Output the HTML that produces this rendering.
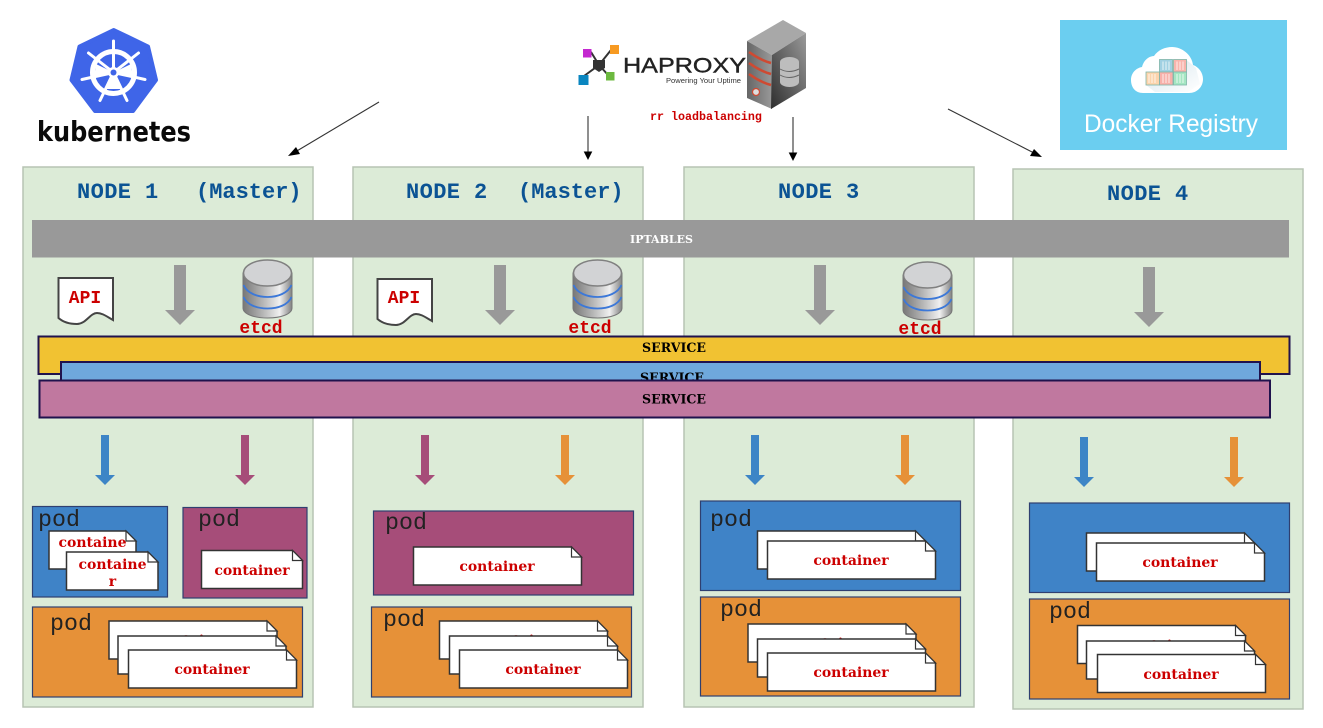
<!DOCTYPE html>
<html><head><meta charset="utf-8"><title>Kubernetes cluster</title>
<style>
html,body{margin:0;padding:0;background:#fff;width:1323px;height:728px;overflow:hidden}
svg{display:block}
.node{fill:#dcebd7;stroke:#b7c4b3;stroke-width:1.5}
.nt{font:bold 22px "Liberation Mono",monospace;fill:#0b5394;white-space:pre}
.pod{font:23.3px "Liberation Mono",monospace;fill:#222}
.ct{font:bold 14px "DejaVu Serif","Liberation Serif",serif;fill:#cc0000;text-anchor:middle}
.red{font:bold 18px "Liberation Mono",monospace;fill:#cc0000;text-anchor:middle}
.sv{font:bold 12.600px "DejaVu Serif","Liberation Serif",serif;fill:#000;text-anchor:middle}
.pb{stroke:#2f3f70;stroke-width:1.2}
.c path{fill:#fff;stroke:#333;stroke-width:1.5}
</style></head><body>
<svg width="1323" height="728" viewBox="0 0 1323 728" xmlns="http://www.w3.org/2000/svg">
<defs>
<linearGradient id="cy" x1="0" x2="1" y1="0" y2="0"><stop offset="0" stop-color="#777"/><stop offset=".4" stop-color="#b5b5b5"/><stop offset=".75" stop-color="#f0f0f0"/><stop offset="1" stop-color="#808080"/></linearGradient>
<linearGradient id="sl" x1="0" x2="1" y1="0" y2="0"><stop offset="0" stop-color="#666"/><stop offset="1" stop-color="#999"/></linearGradient>
<linearGradient id="sr" x1="0" x2="1" y1="1" y2="0"><stop offset="0" stop-color="#2e2e2e"/><stop offset="1" stop-color="#9a9a9a"/></linearGradient>
<linearGradient id="cs" x1="0" x2="1" y1="0" y2="1"><stop offset="0" stop-color="#c5dbe6"/><stop offset="1" stop-color="#fff"/></linearGradient>
<g id="cyl">
<path d="M0 13V48C0 54 11 58 24.500 58S49 54 49 48V13Z" fill="url(#cy)" stroke="#777"/>
<ellipse cx="24.500" cy="13" rx="24" ry="13" fill="#d2d3d5" stroke="#808080" stroke-width="1.500"/>
<path d="M0.500 25C4 33 14 37 24.500 37S45 33 48.500 25M0.500 37C4 45 14 48.500 24.500 48.500S45 45 48.500 37" fill="none" stroke="#3c78d8" stroke-width="1.800"/>
</g>
<g id="doc"><path d="M0.500 0H55V42C48 38 44 35 39 35C32 35 28 46 19 46C11 46 5 44 0.500 40Z" fill="#fff" stroke="#444" stroke-width="2"/></g>
<g id="c168" class="c"><path d="M0 0H158L168 10V38H0Z"/><path d="M158 0V10H168Z" style="stroke-width:1.200"/></g>
<path id="ga" d="M-6 0H6V45H15L0 60L-15 45H-6Z" fill="#999"/>
<path id="sa" d="M-4 0H4V40H10L0 50L-10 40H-4Z"/>
<path id="ah" d="M0 0L-4.300 -8.500H4.300Z" fill="#000"/>
</defs>

<!-- nodes -->
<rect class="node" x="23" y="167" width="290" height="540"/>
<rect class="node" x="353" y="167" width="290" height="540"/>
<rect class="node" x="684" y="167" width="290" height="540"/>
<rect class="node" x="1013" y="169" width="290" height="540"/>

<text class="nt" x="77" y="198" letter-spacing=".4">NODE 1</text><text class="nt" x="196" y="198">(Master)</text>
<text class="nt" x="406" y="198" letter-spacing=".4">NODE 2</text><text class="nt" x="518" y="198">(Master)</text>
<text class="nt" x="778" y="198" letter-spacing=".4">NODE 3</text>
<text class="nt" x="1107" y="200" letter-spacing=".4">NODE 4</text>

<!-- kubernetes logo -->
<path d="M113.700 30L148 46.500L156 80L133 111H95L71.500 80L79.500 46.500Z" fill="#3f65e8" stroke="#3f65e8" stroke-width="4" stroke-linejoin="round"/>
<g fill="none" stroke="#fff" stroke-linecap="round">
<circle cx="113.500" cy="72.500" r="21" stroke-width="5"/>
<path stroke-width="3" d="M113.500 41V72.500M138.500 53L113.500 72.500M145 79.500L113.500 72.500M127 100.500L113.500 72.500M100 100.500L113.500 72.500M82 79.500L113.500 72.500M88.500 53L113.500 72.500"/>
</g>
<path d="M113.500 72.500L106 89H121Z M113.500 72.500L96 64L94 78Z M113.500 72.500L131 64L133 78Z" fill="#fff"/>
<circle cx="113.500" cy="72.500" r="5.500" fill="#fff"/>
<circle cx="113.500" cy="72.500" r="3" fill="#3f65e8"/>
<text x="37" y="141" font-family="'DejaVu Sans','Liberation Sans',sans-serif" font-weight="bold" font-size="28" textLength="154" lengthAdjust="spacingAndGlyphs" fill="#0a0a0a">kubernetes</text>

<!-- haproxy logo -->
<path d="M584 76L599 65L611 50M591 52L599 65L609 76" stroke="#333" stroke-width="2" fill="none"/>
<path d="M593 60H605V68L599 72L593 68Z" fill="#333"/>
<rect x="583" y="49" width="8.500" height="8.500" fill="#c428d0"/>
<rect x="610" y="45" width="9" height="9" fill="#f79a22"/>
<rect x="578.500" y="75" width="10" height="10" fill="#0a86c0"/>
<rect x="606" y="72" width="8.500" height="8.500" fill="#6cb93f"/>
<text x="623" y="72.500" font-family="'Liberation Sans',sans-serif" font-size="21" textLength="123" lengthAdjust="spacingAndGlyphs" fill="#222" stroke="#222" stroke-width=".4">HAPROXY</text>
<text x="666" y="83" font-family="'Liberation Sans',sans-serif" font-size="7.500" textLength="75" lengthAdjust="spacingAndGlyphs" fill="#333">Powering Your Uptime</text>
<path d="M783 20L806 33L772 55L747 41Z" fill="#a8a8a8"/>
<path d="M747 41L772 55V109L747 98Z" fill="url(#sl)"/>
<path d="M772 55L806 33V88L771 109Z" fill="url(#sr)"/>
<path d="M749 52Q760 60 771 63M749 63Q760 71 771 74M749 74Q760 82 771 85" fill="none" stroke="#cf4a32" stroke-width="2.500"/>
<circle cx="756" cy="92" r="3.500" fill="#ddd" stroke="#cf4a32" stroke-width="1.200"/>
<g fill="#bdbdbd"><ellipse cx="789.500" cy="62" rx="9.500" ry="5"/><rect x="780" y="62" width="19" height="20"/><ellipse cx="789.500" cy="82" rx="9.500" ry="5"/></g>
<path d="M780 69Q789 74 799 69M780 75Q789 80 799 75" stroke="#666" fill="none"/>
<text x="650" y="120" font-family="'Liberation Mono',monospace" font-weight="bold" font-size="11.670" fill="#cc0000">rr loadbalancing</text>

<!-- docker registry -->
<rect x="1060" y="20" width="227" height="130" fill="#6bcef0"/>
<path d="M1143 93C1135 93 1131 87 1131 80C1131 73 1136 68 1142 67C1144 59 1150 56 1154 56C1158 50 1165 47 1172 47C1182 47 1192 55 1193 65C1199 67 1203 73 1203 79C1203 87 1197 93 1189 93Z" fill="#fff"/>
<path d="M1146 85H1186.500V60L1196 68L1200 84L1188 92H1155Z" fill="url(#cs)" opacity=".7"/>
<g stroke="#7fb5a8" stroke-width=".8">
<rect x="1159.500" y="59.500" width="13" height="12.500" fill="#a0d0e2"/>
<rect x="1173.500" y="59.500" width="13" height="12.500" fill="#f8b4ac"/>
<rect x="1146" y="72" width="13.500" height="13" fill="#fcd4ac"/>
<rect x="1159.500" y="72" width="13.500" height="13" fill="#f8b0aa"/>
<rect x="1173.500" y="72" width="13" height="13" fill="#a4e6c2"/>
</g>
<path d="M1149 74V83M1152 74V83M1155 74V83M1163 74V83M1166 74V83M1169 74V83M1177 74V83M1180 74V83M1183 74V83M1163 61.500V70M1166 61.500V70M1169 61.500V70M1177 61.500V70M1180 61.500V70M1183 61.500V70" stroke="#fff" stroke-width="1" opacity=".75"/>
<text x="1084" y="132" font-family="'Liberation Sans',sans-serif" font-size="25" textLength="174" lengthAdjust="spacingAndGlyphs" fill="#fff">Docker Registry</text>

<!-- top arrows -->
<g stroke="#333" stroke-width="1.100">
<path d="M379 102L296 151.500"/><path d="M588 116V152"/><path d="M793 117V153"/><path d="M948 109L1033 152.500"/>
</g>
<path d="M288 156L296 147L300 154Z"/><path d="M1042 157L1030 156L1034 149Z"/>
<use href="#ah" x="588" y="160"/><use href="#ah" x="793" y="161"/>

<!-- iptables -->
<rect x="32" y="220" width="1257" height="37.500" fill="#999"/>
<text x="661.500" y="243" font-family="'DejaVu Serif','Liberation Serif',serif" font-weight="bold" font-size="11" text-anchor="middle" fill="#fff">IPTABLES</text>

<!-- gray arrows -->
<use href="#ga" x="180" y="265"/><use href="#ga" x="500" y="265"/><use href="#ga" x="820" y="265"/><use href="#ga" x="1149" y="267"/>

<!-- API / etcd -->
<use href="#doc" x="58" y="278"/><text class="red" x="85" y="303">API</text>
<use href="#doc" x="377" y="279"/><text class="red" x="404" y="303">API</text>
<use href="#cyl" x="243" y="260"/><text class="red" x="261" y="333">etcd</text>
<use href="#cyl" x="573" y="260"/><text class="red" x="590" y="333">etcd</text>
<use href="#cyl" x="903" y="262"/><text class="red" x="920" y="334">etcd</text>

<!-- services -->
<rect x="38.500" y="336.500" width="1251" height="37.500" fill="#f1c232" stroke="#20124d" stroke-width="2"/>
<text class="sv" x="674" y="352">SERVICE</text>
<rect x="61" y="362" width="1199" height="30" fill="#6fa8dc" stroke="#20124d" stroke-width="2"/>
<text class="sv" x="672" y="382">SERVICE</text>
<rect x="39.500" y="380.500" width="1230.500" height="37" fill="#c0789f" stroke="#20124d" stroke-width="2"/>
<text class="sv" x="674" y="403.500">SERVICE</text>

<!-- small arrows -->
<use href="#sa" x="105" y="435" fill="#3d85c6"/><use href="#sa" x="245" y="435" fill="#a64d79"/>
<use href="#sa" x="425" y="435" fill="#a64d79"/><use href="#sa" x="565" y="435" fill="#e69138"/>
<use href="#sa" x="755" y="435" fill="#3d85c6"/><use href="#sa" x="905" y="435" fill="#e69138"/>
<use href="#sa" x="1084" y="437" fill="#3d85c6"/><use href="#sa" x="1234" y="437" fill="#e69138"/>

<!-- NODE 1 pods -->
<rect class="pb" x="32.500" y="506.500" width="135" height="90.500" fill="#3f83c7"/>
<text class="pod" x="38" y="526">pod</text>
<g class="c"><path d="M49 531H126L136 541V569H49Z"/><path d="M126 531V541H136Z" style="stroke-width:1.200"/></g>
<text class="ct" x="92.500" y="547">containe</text>
<g class="c"><path d="M66.500 552H148L158 562V590H66.500Z"/><path d="M148 552V562H158Z" style="stroke-width:1.200"/></g>
<text class="ct" x="112.500" y="569">containe</text>
<text class="ct" x="112.500" y="586">r</text>
<rect class="pb" x="183" y="507.500" width="124" height="90.500" fill="#a64d79"/>
<text class="pod" x="198" y="526">pod</text>
<g class="c"><path d="M201.500 550.500H292.500L302.500 560.500V588.500H201.500Z"/><path d="M292.500 550.500V560.500H302.500Z" style="stroke-width:1.200"/></g>
<text class="ct" x="252" y="575">container</text>
<rect class="pb" x="32.500" y="607" width="270" height="90" fill="#e69138"/>
<text class="pod" x="50" y="630">pod</text>
<use href="#c168" x="109" y="621"/><text class="ct" x="193" y="645">container</text>
<use href="#c168" x="118" y="636"/><text class="ct" x="202" y="660">container</text>
<use href="#c168" x="128.500" y="650"/><text class="ct" x="212" y="674">container</text>

<!-- NODE 2 pods -->
<rect class="pb" x="373.500" y="511" width="260" height="84" fill="#a64d79"/>
<text class="pod" x="385" y="529">pod</text>
<use href="#c168" x="413.500" y="547"/><text class="ct" x="497" y="571">container</text>
<rect class="pb" x="371.500" y="607" width="260" height="90" fill="#e69138"/>
<text class="pod" x="383" y="626">pod</text>
<use href="#c168" x="439.500" y="621"/><text class="ct" x="523" y="645">container</text>
<use href="#c168" x="449.500" y="636"/><text class="ct" x="533" y="660">container</text>
<use href="#c168" x="459.500" y="650"/><text class="ct" x="543" y="674">container</text>

<!-- NODE 3 pods -->
<rect class="pb" x="700.500" y="501" width="260" height="89.500" fill="#3f83c7"/>
<text class="pod" x="710" y="526">pod</text>
<use href="#c168" x="757.500" y="531"/><text class="ct" x="841" y="555">container</text>
<use href="#c168" x="767.500" y="541"/><text class="ct" x="851" y="565">container</text>
<rect class="pb" x="700.500" y="597" width="260" height="99" fill="#e69138"/>
<text class="pod" x="720" y="616">pod</text>
<use href="#c168" x="748" y="624"/><text class="ct" x="832" y="648">container</text>
<use href="#c168" x="757.500" y="639"/><text class="ct" x="841" y="663">container</text>
<use href="#c168" x="767.500" y="653"/><text class="ct" x="851" y="677">container</text>

<!-- NODE 4 pods -->
<rect class="pb" x="1029.500" y="503" width="260" height="89.500" fill="#3f83c7"/>
<use href="#c168" x="1086.500" y="533"/><text class="ct" x="1170" y="557">container</text>
<use href="#c168" x="1096.500" y="543"/><text class="ct" x="1180" y="567">container</text>
<rect class="pb" x="1029.500" y="599" width="260" height="100" fill="#e69138"/>
<text class="pod" x="1049" y="618">pod</text>
<use href="#c168" x="1077.500" y="625.500"/><text class="ct" x="1161" y="650">container</text>
<use href="#c168" x="1086.500" y="641"/><text class="ct" x="1170" y="665">container</text>
<use href="#c168" x="1097.500" y="654.500"/><text class="ct" x="1181" y="679">container</text>
</svg>
</body></html>
